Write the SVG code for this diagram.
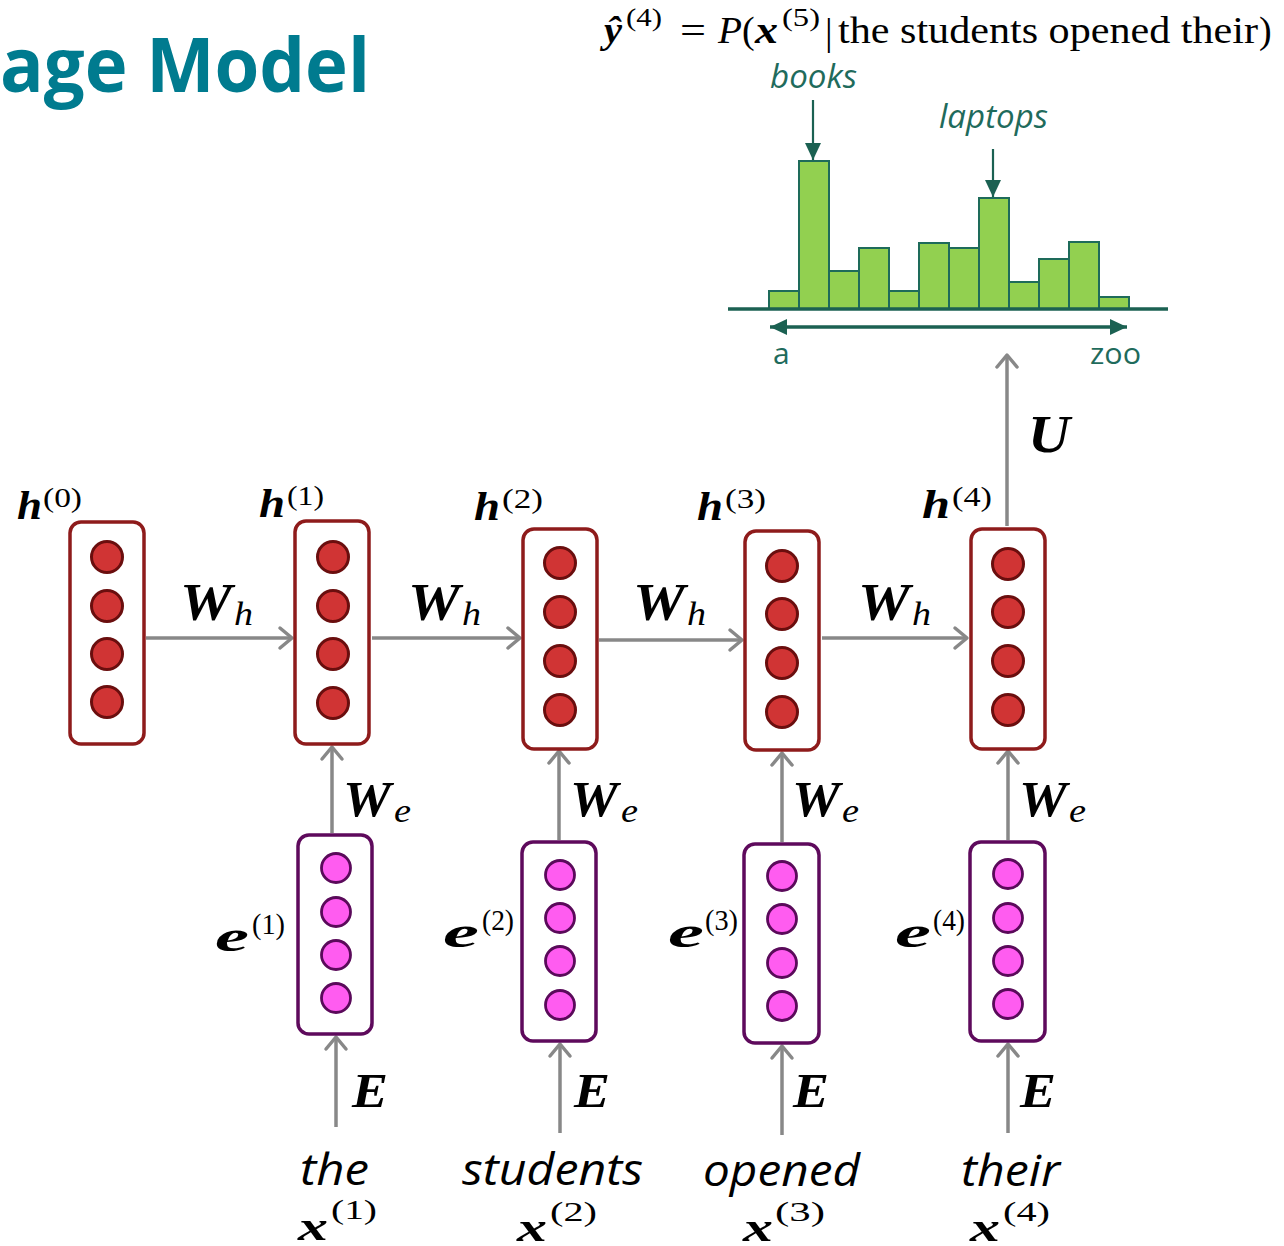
<svg xmlns="http://www.w3.org/2000/svg" width="1284" height="1246" viewBox="0 0 1284 1246">
<style>
.hbox{fill:#fff;stroke:#8E1B1B;stroke-width:3.5}
.hdot{fill:#D03434;stroke:#6A0E0E;stroke-width:3}
.ebox{fill:#fff;stroke:#5E0A5C;stroke-width:3.5}
.edot{fill:#FF5CF0;stroke:#5A0A5A;stroke-width:2.8}
.conn{stroke:#888;stroke-width:3.5;fill:none;marker-end:url(#chev)}
.bar{fill:#92D050;stroke:#1E6B5A;stroke-width:2}
.teal{fill:#1F6B5C;font-family:"Open Sans","Liberation Sans",sans-serif}
.mb{font-family:"Liberation Serif","DejaVu Serif",serif;font-weight:bold;font-style:italic;fill:#000}
.mi{font-family:"Liberation Serif","DejaVu Serif",serif;font-style:italic;fill:#000}
.mr{font-family:"Liberation Serif","DejaVu Serif",serif;fill:#000}
.word{font-family:"Open Sans","Liberation Sans",sans-serif;font-style:italic;font-size:44px;fill:#000}
</style>
<defs>
<marker id="chev" markerUnits="userSpaceOnUse" markerWidth="30" markerHeight="30" viewBox="-15 -15 30 30" refX="0" refY="0" orient="auto" overflow="visible">
<path d="M-12,-10 L0,0 L-12,10" fill="none" stroke="#888" stroke-width="3.5" stroke-linecap="round" stroke-linejoin="round"/>
</marker>
<marker id="tri" markerUnits="userSpaceOnUse" markerWidth="24" markerHeight="24" viewBox="-20 -12 24 24" refX="0" refY="0" orient="auto-start-reverse" overflow="visible">
<path d="M-17,-8 L0,0 L-17,8 Z" fill="#1B6152"/>
</marker>
</defs>

<text x="0" y="92" font-family="'Open Sans','Liberation Sans',sans-serif" font-weight="bold" font-size="76" fill="#007B8F" textLength="370" lengthAdjust="spacingAndGlyphs">age Model</text>

<g id="formula">
<text class="mb" x="604" y="43" font-size="38" textLength="18" lengthAdjust="spacingAndGlyphs">ŷ</text>
<text class="mr" x="626" y="26" font-size="26" textLength="36" lengthAdjust="spacingAndGlyphs">(4)</text>
<text class="mr" x="680" y="43" font-size="38" textLength="26" lengthAdjust="spacingAndGlyphs">=</text>
<text class="mi" x="718" y="43" font-size="38" textLength="24" lengthAdjust="spacingAndGlyphs">P</text>
<text class="mr" x="742" y="43" font-size="38">(</text>
<text class="mb" x="755" y="43" font-size="38" textLength="23" lengthAdjust="spacingAndGlyphs">x</text>
<text class="mr" x="782" y="26" font-size="26" textLength="38" lengthAdjust="spacingAndGlyphs">(5)</text>
<text class="mr" x="825" y="45" font-size="38">|</text>
<text class="mr" x="838" y="43" font-size="38" textLength="420" lengthAdjust="spacingAndGlyphs">the students opened their</text>
<text class="mr" x="1259" y="43" font-size="38">)</text>
</g>

<g id="histogram">
<rect class="bar" x="769" y="291" width="30" height="18"/>
<rect class="bar" x="799" y="161" width="30" height="148"/>
<rect class="bar" x="829" y="271" width="30" height="38"/>
<rect class="bar" x="859" y="248" width="30" height="61"/>
<rect class="bar" x="889" y="291" width="30" height="18"/>
<rect class="bar" x="919" y="243" width="30" height="66"/>
<rect class="bar" x="949" y="248" width="30" height="61"/>
<rect class="bar" x="979" y="198" width="30" height="111"/>
<rect class="bar" x="1009" y="282" width="30" height="27"/>
<rect class="bar" x="1039" y="259" width="30" height="50"/>
<rect class="bar" x="1069" y="242" width="30" height="67"/>
<rect class="bar" x="1099" y="297" width="30" height="12"/>
<line x1="728" y1="309" x2="1168" y2="309" stroke="#1B6152" stroke-width="3.5"/>
<line x1="770" y1="327" x2="1127" y2="327" stroke="#1B6152" stroke-width="3.5" marker-start="url(#tri)" marker-end="url(#tri)"/>
<line x1="813" y1="100" x2="813" y2="160" stroke="#1B6152" stroke-width="2.2" marker-end="url(#tri)"/>
<line x1="993" y1="149" x2="993" y2="197" stroke="#1B6152" stroke-width="2.2" marker-end="url(#tri)"/>
<text class="teal" x="770" y="88" font-size="32" font-style="italic" textLength="87" lengthAdjust="spacingAndGlyphs">books</text>
<text class="teal" x="939" y="128" font-size="32" font-style="italic" textLength="109" lengthAdjust="spacingAndGlyphs">laptops</text>
<text class="teal" x="773" y="364" font-size="30">a</text>
<text class="teal" x="1090" y="364" font-size="30" textLength="51" lengthAdjust="spacingAndGlyphs">zoo</text>
</g>

<g id="connectors">
<line class="conn" x1="146" y1="638" x2="292" y2="638"/>
<line class="conn" x1="372" y1="638" x2="520" y2="638"/>
<line class="conn" x1="599" y1="640" x2="742" y2="640"/>
<line class="conn" x1="822" y1="638" x2="967" y2="638"/>
<line class="conn" x1="332" y1="833" x2="332" y2="747"/>
<line class="conn" x1="559" y1="840" x2="559" y2="751"/>
<line class="conn" x1="782" y1="842" x2="782" y2="753"/>
<line class="conn" x1="1008" y1="840" x2="1008" y2="751"/>
<line class="conn" x1="336" y1="1127" x2="336" y2="1037"/>
<line class="conn" x1="560" y1="1133" x2="560" y2="1044"/>
<line class="conn" x1="782" y1="1135" x2="782" y2="1046"/>
<line class="conn" x1="1008" y1="1133" x2="1008" y2="1044"/>
<line class="conn" x1="1007" y1="526" x2="1007" y2="355"/>
</g>

<g id="h0">
<rect class="hbox" x="70" y="522" width="74" height="222" rx="11"/>
<circle class="hdot" cx="107" cy="557" r="15.5"/><circle class="hdot" cx="107" cy="606" r="15.5"/><circle class="hdot" cx="107" cy="654" r="15.5"/><circle class="hdot" cx="107" cy="702" r="15.5"/>
<text class="mb" x="17" y="519" font-size="40" textLength="25" lengthAdjust="spacingAndGlyphs">h</text>
<text class="mr" x="43" y="507" font-size="28" textLength="39" lengthAdjust="spacingAndGlyphs">(0)</text>
</g>
<g id="h1">
<rect class="hbox" x="295" y="521" width="74" height="223" rx="11"/>
<circle class="hdot" cx="333" cy="557" r="15.5"/><circle class="hdot" cx="333" cy="606" r="15.5"/><circle class="hdot" cx="333" cy="654" r="15.5"/><circle class="hdot" cx="333" cy="703" r="15.5"/>
<text class="mb" x="259" y="517" font-size="40" textLength="26" lengthAdjust="spacingAndGlyphs">h</text>
<text class="mr" x="287" y="505" font-size="28" textLength="37" lengthAdjust="spacingAndGlyphs">(1)</text>
</g>
<g id="h2">
<rect class="hbox" x="523" y="529" width="74" height="220" rx="11"/>
<circle class="hdot" cx="560" cy="563" r="15.5"/><circle class="hdot" cx="560" cy="612" r="15.5"/><circle class="hdot" cx="560" cy="661" r="15.5"/><circle class="hdot" cx="560" cy="710" r="15.5"/>
<text class="mb" x="474" y="520" font-size="40" textLength="26" lengthAdjust="spacingAndGlyphs">h</text>
<text class="mr" x="502" y="508" font-size="28" textLength="41" lengthAdjust="spacingAndGlyphs">(2)</text>
</g>
<g id="h3">
<rect class="hbox" x="745" y="531" width="74" height="219" rx="11"/>
<circle class="hdot" cx="782" cy="566" r="15.5"/><circle class="hdot" cx="782" cy="614" r="15.5"/><circle class="hdot" cx="782" cy="663" r="15.5"/><circle class="hdot" cx="782" cy="712" r="15.5"/>
<text class="mb" x="697" y="520" font-size="40" textLength="26" lengthAdjust="spacingAndGlyphs">h</text>
<text class="mr" x="725" y="508" font-size="28" textLength="41" lengthAdjust="spacingAndGlyphs">(3)</text>
</g>
<g id="h4">
<rect class="hbox" x="971" y="529" width="74" height="220" rx="11"/>
<circle class="hdot" cx="1008" cy="564" r="15.5"/><circle class="hdot" cx="1008" cy="612" r="15.5"/><circle class="hdot" cx="1008" cy="661" r="15.5"/><circle class="hdot" cx="1008" cy="710" r="15.5"/>
<text class="mb" x="922" y="518" font-size="40" textLength="28" lengthAdjust="spacingAndGlyphs">h</text>
<text class="mr" x="952" y="506" font-size="28" textLength="40" lengthAdjust="spacingAndGlyphs">(4)</text>
</g>

<g id="e1">
<rect class="ebox" x="298" y="835" width="74" height="199" rx="11"/>
<circle class="edot" cx="336" cy="868" r="14.5"/><circle class="edot" cx="336" cy="912" r="14.5"/><circle class="edot" cx="336" cy="955" r="14.5"/><circle class="edot" cx="336" cy="998" r="14.5"/>
<text class="mb" x="215" y="951" font-size="44" textLength="34" lengthAdjust="spacingAndGlyphs">e</text>
<text class="mr" x="252" y="934" font-size="30" textLength="33" lengthAdjust="spacingAndGlyphs">(1)</text>
</g>
<g id="e2">
<rect class="ebox" x="522" y="842" width="74" height="199" rx="11"/>
<circle class="edot" cx="560" cy="875" r="14.5"/><circle class="edot" cx="560" cy="918" r="14.5"/><circle class="edot" cx="560" cy="961" r="14.5"/><circle class="edot" cx="560" cy="1005" r="14.5"/>
<text class="mb" x="443" y="947" font-size="44" textLength="36" lengthAdjust="spacingAndGlyphs">e</text>
<text class="mr" x="482" y="930" font-size="30" textLength="32" lengthAdjust="spacingAndGlyphs">(2)</text>
</g>
<g id="e3">
<rect class="ebox" x="744" y="844" width="75" height="199" rx="11"/>
<circle class="edot" cx="782" cy="876" r="14.5"/><circle class="edot" cx="782" cy="919" r="14.5"/><circle class="edot" cx="782" cy="963" r="14.5"/><circle class="edot" cx="782" cy="1006" r="14.5"/>
<text class="mb" x="668" y="947" font-size="44" textLength="36" lengthAdjust="spacingAndGlyphs">e</text>
<text class="mr" x="705" y="930" font-size="30" textLength="33" lengthAdjust="spacingAndGlyphs">(3)</text>
</g>
<g id="e4">
<rect class="ebox" x="970" y="842" width="75" height="199" rx="11"/>
<circle class="edot" cx="1008" cy="874" r="14.5"/><circle class="edot" cx="1008" cy="918" r="14.5"/><circle class="edot" cx="1008" cy="961" r="14.5"/><circle class="edot" cx="1008" cy="1004" r="14.5"/>
<text class="mb" x="895" y="947" font-size="44" textLength="36" lengthAdjust="spacingAndGlyphs">e</text>
<text class="mr" x="933" y="930" font-size="30" textLength="32" lengthAdjust="spacingAndGlyphs">(4)</text>
</g>

<g id="weights">
<text class="mb" x="180" y="620" font-size="52" textLength="52" lengthAdjust="spacingAndGlyphs">W</text>
<text class="mi" x="234" y="625" font-size="33" textLength="19" lengthAdjust="spacingAndGlyphs">h</text>
<text class="mb" x="408" y="620" font-size="52" textLength="52" lengthAdjust="spacingAndGlyphs">W</text>
<text class="mi" x="462" y="625" font-size="33" textLength="19" lengthAdjust="spacingAndGlyphs">h</text>
<text class="mb" x="633" y="620" font-size="52" textLength="52" lengthAdjust="spacingAndGlyphs">W</text>
<text class="mi" x="687" y="625" font-size="33" textLength="19" lengthAdjust="spacingAndGlyphs">h</text>
<text class="mb" x="858" y="620" font-size="52" textLength="52" lengthAdjust="spacingAndGlyphs">W</text>
<text class="mi" x="912" y="625" font-size="33" textLength="19" lengthAdjust="spacingAndGlyphs">h</text>

<text class="mb" x="343" y="816" font-size="50" textLength="48" lengthAdjust="spacingAndGlyphs">W</text>
<text class="mi" x="394" y="822" font-size="33" textLength="17" lengthAdjust="spacingAndGlyphs">e</text>
<text class="mb" x="570" y="816" font-size="50" textLength="48" lengthAdjust="spacingAndGlyphs">W</text>
<text class="mi" x="621" y="822" font-size="33" textLength="17" lengthAdjust="spacingAndGlyphs">e</text>
<text class="mb" x="792" y="816" font-size="50" textLength="48" lengthAdjust="spacingAndGlyphs">W</text>
<text class="mi" x="842" y="822" font-size="33" textLength="17" lengthAdjust="spacingAndGlyphs">e</text>
<text class="mb" x="1019" y="816" font-size="50" textLength="48" lengthAdjust="spacingAndGlyphs">W</text>
<text class="mi" x="1069" y="822" font-size="33" textLength="17" lengthAdjust="spacingAndGlyphs">e</text>

<text class="mb" x="352" y="1107" font-size="48" textLength="36" lengthAdjust="spacingAndGlyphs">E</text>
<text class="mb" x="574" y="1107" font-size="48" textLength="36" lengthAdjust="spacingAndGlyphs">E</text>
<text class="mb" x="793" y="1107" font-size="48" textLength="36" lengthAdjust="spacingAndGlyphs">E</text>
<text class="mb" x="1020" y="1107" font-size="48" textLength="36" lengthAdjust="spacingAndGlyphs">E</text>

<text class="mb" x="1028" y="452" font-size="52" textLength="42" lengthAdjust="spacingAndGlyphs">U</text>
</g>

<g id="inputs">
<text class="word" x="300" y="1185" textLength="69" lengthAdjust="spacingAndGlyphs">the</text>
<text class="word" x="462" y="1185" textLength="181" lengthAdjust="spacingAndGlyphs">students</text>
<text class="word" x="703" y="1186" textLength="157" lengthAdjust="spacingAndGlyphs">opened</text>
<text class="word" x="961" y="1186" textLength="99" lengthAdjust="spacingAndGlyphs">their</text>

<text class="mb" x="298" y="1240" font-size="42" textLength="30" lengthAdjust="spacingAndGlyphs">x</text>
<text class="mr" x="331" y="1219" font-size="28" textLength="46" lengthAdjust="spacingAndGlyphs">(1)</text>
<text class="mb" x="517" y="1241" font-size="42" textLength="30" lengthAdjust="spacingAndGlyphs">x</text>
<text class="mr" x="550" y="1221" font-size="28" textLength="47" lengthAdjust="spacingAndGlyphs">(2)</text>
<text class="mb" x="743" y="1241" font-size="42" textLength="30" lengthAdjust="spacingAndGlyphs">x</text>
<text class="mr" x="775" y="1221" font-size="28" textLength="50" lengthAdjust="spacingAndGlyphs">(3)</text>
<text class="mb" x="970" y="1241" font-size="42" textLength="30" lengthAdjust="spacingAndGlyphs">x</text>
<text class="mr" x="1003" y="1221" font-size="28" textLength="47" lengthAdjust="spacingAndGlyphs">(4)</text>
</g>
</svg>
